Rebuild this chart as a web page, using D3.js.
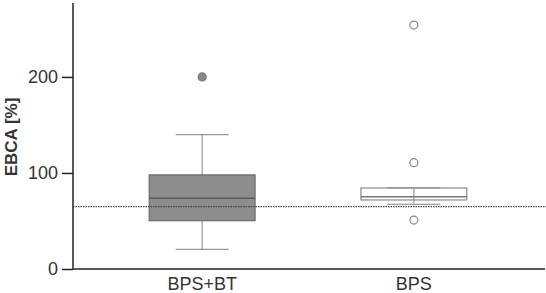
<!DOCTYPE html>
<html>
<head>
<meta charset="utf-8">
<script src="https://cdn.jsdelivr.net/npm/d3@7"></script>
<style>
  body { margin: 0; background: #fff; }
  text { font-family: "Liberation Sans", Arial, sans-serif; }
</style>
</head>
<body>
<svg width="546" height="293"></svg>
<script>
// groups and box stats
var groups = ["BPS+BT", "BPS"];
var lowWhisk = [20.5, 67.4];
var q1 = [50.3, 71.9];
var medians = [73.6, 75.3];
var q3 = [98, 84.4];
var highWhisk = [140, 84.4];
var fills = ["#8d8d8d", "none"];
var strokes = ["#6a6a6a", "#8a8a8a"];
var outliers = [
  { g: "BPS+BT", v: 200, filled: true },
  { g: "BPS", v: 254 },
  { g: "BPS", v: 110.7 },
  { g: "BPS", v: 51 }
];
var refLine = 65;
var yTicks = [0, 100, 200];

var svg = d3.select("svg");

var x = d3.scaleBand().domain(groups).range([73, 543])
  .paddingInner(0.5).paddingOuter(0.36);
var y = d3.scaleLinear().domain([0, 277]).range([269, 3]);

var boxes = groups.map(function(g, i) {
  return { g: g, lo: lowWhisk[i], q1: q1[i], med: medians[i], q3: q3[i], hi: highWhisk[i], fill: fills[i], stroke: strokes[i] };
});

var g = svg.append("g");

// whisker lines (behind boxes)
g.selectAll(".whisk").data(boxes).enter().append("line")
  .attr("x1", function(d) { return x(d.g) + x.bandwidth() / 2; })
  .attr("x2", function(d) { return x(d.g) + x.bandwidth() / 2; })
  .attr("y1", function(d) { return y(d.hi); })
  .attr("y2", function(d) { return y(d.lo); })
  .attr("stroke", "#999").attr("stroke-width", 1.2);

// caps
["hi", "lo"].forEach(function(k) {
  g.selectAll(".cap-" + k).data(boxes).enter().append("line")
    .attr("x1", function(d) { return x(d.g) + x.bandwidth() / 4; })
    .attr("x2", function(d) { return x(d.g) + x.bandwidth() * 3 / 4; })
    .attr("y1", function(d) { return y(d[k]); })
    .attr("y2", function(d) { return y(d[k]); })
    .attr("stroke", "#999").attr("stroke-width", 1.2);
});

// boxes
g.selectAll(".box").data(boxes).enter().append("rect")
  .attr("x", function(d) { return x(d.g); })
  .attr("width", x.bandwidth())
  .attr("y", function(d) { return y(d.q3); })
  .attr("height", function(d) { return y(d.q1) - y(d.q3); })
  .attr("fill", function(d) { return d.fill; })
  .attr("stroke", function(d) { return d.stroke; })
  .attr("stroke-width", 1.2);

// medians
g.selectAll(".med").data(boxes).enter().append("line")
  .attr("x1", function(d) { return x(d.g); })
  .attr("x2", function(d) { return x(d.g) + x.bandwidth(); })
  .attr("y1", function(d) { return y(d.med); })
  .attr("y2", function(d) { return y(d.med); })
  .attr("stroke", function(d, i) { return i == 0 ? "#5a5a5a" : "#777"; })
  .attr("stroke-width", 1.4);

// outliers
g.selectAll(".out").data(outliers).enter().append("circle")
  .attr("cx", function(d) { return x(d.g) + x.bandwidth() / 2; })
  .attr("cy", function(d) { return y(d.v); })
  .attr("r", 4)
  .attr("fill", function(d) { return d.filled ? "#888" : "#fff"; })
  .attr("stroke", function(d) { return d.filled ? "#777" : "#888"; })
  .attr("stroke-width", 1.2);

// reference dotted line
svg.append("line")
  .attr("x1", 73).attr("x2", 546)
  .attr("y1", y(refLine)).attr("y2", y(refLine))
  .attr("stroke", "#444").attr("stroke-width", 1.2)
  .attr("stroke-dasharray", "1.5,1");

// y axis
var yAxis = svg.append("g")
  .attr("transform", "translate(73,0)")
  .call(d3.axisLeft(y).tickValues(yTicks).tickSize(11).tickPadding(4));
yAxis.select(".domain").attr("d", "M0," + y(277) + "V" + y(0)).attr("stroke", "#222").attr("stroke-width", 1.5);
yAxis.selectAll(".tick line").attr("stroke", "#222").attr("stroke-width", 1.5);
yAxis.selectAll(".tick text").attr("font-size", 18).attr("fill", "#333")
  .style("font-family", "Liberation Sans, Arial, sans-serif");

// x axis
var xAxis = svg.append("g")
  .attr("transform", "translate(0,269)")
  .call(d3.axisBottom(x).tickSize(0).tickPadding(8));
xAxis.select(".domain").attr("d", "M73,0H545").attr("stroke", "#222").attr("stroke-width", 1.5);
xAxis.selectAll(".tick text").attr("font-size", 18).attr("fill", "#333")
  .style("font-family", "Liberation Sans, Arial, sans-serif");

// y label
svg.append("text")
  .attr("transform", "translate(17,137) rotate(-90)")
  .attr("text-anchor", "middle")
  .attr("font-size", 17)
  .attr("font-weight", "bold")
  .attr("fill", "#333")
  .text("EBCA [%]");
</script>
</body>
</html>
